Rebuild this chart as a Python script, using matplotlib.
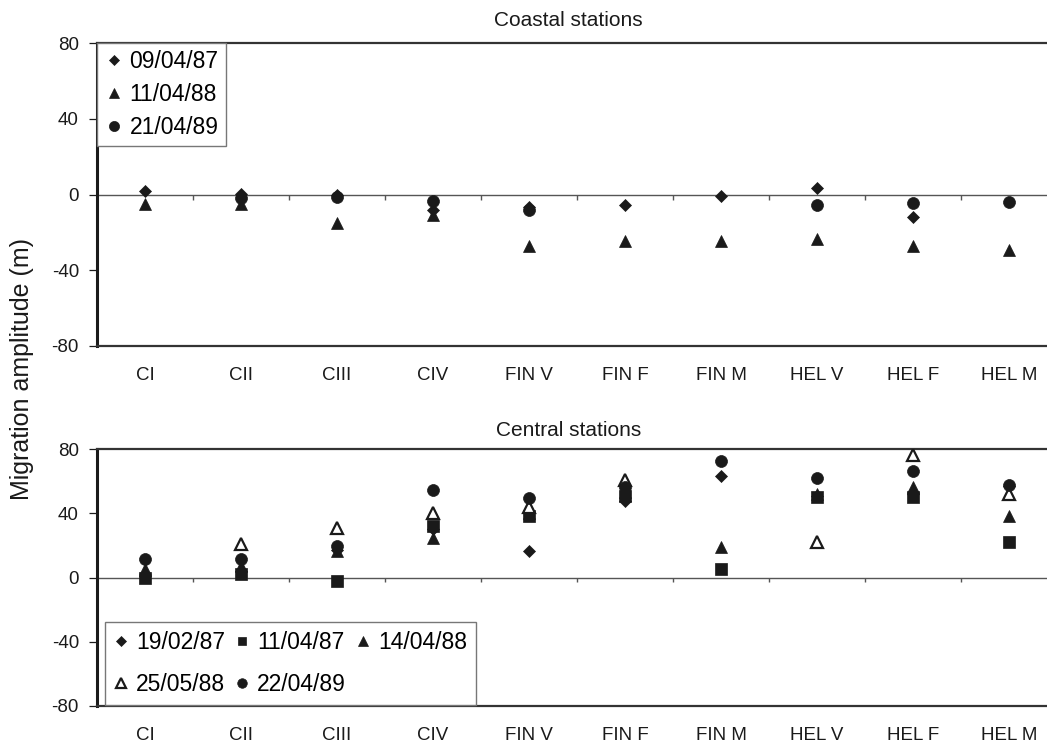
import numpy as np
import matplotlib
matplotlib.use("Agg")
import matplotlib.pyplot as plt

plt.rcParams['font.family'] = ['Liberation Sans', 'DejaVu Sans']

nan = np.nan
categories = ['CI', 'CII', 'CIII', 'CIV', 'FIN V', 'FIN F', 'FIN M', 'HEL V', 'HEL F', 'HEL M']
y_ticks = [-80, -40, 0, 40, 80]

# Coastal stations
coastal_labels = ['09/04/87', '11/04/88', '21/04/89']
coastal_090487 = [2.1, 0.3, 0.0, -8.1, -6.5, -5.5, -1.0, 3.5, -12.0, nan]
coastal_110488 = [-4.9, -5.0, -14.8, -10.6, -27.0, -24.3, -24.3, -23.6, -27.1, -29.2]
coastal_210489 = [nan, -2.0, -1.4, -3.2, -8.1, nan, nan, -5.5, -4.4, -4.1]

# Central stations
central_labels = ['19/02/87', '11/04/87', '14/04/88', '25/05/88', '22/04/89']
central_190287 = [1.0, 4.0, 17.0, 30.0, 16.7, 47.5, 63.4, 51.0, 52.0, 57.0]
central_110487 = [0.0, 2.0, -2.3, 31.8, 38.4, 50.5, 5.4, 50.4, 50.2, 22.1]
central_140488 = [5.0, 7.0, 16.3, 24.6, 40.0, 53.5, 18.8, 52.0, 56.4, 38.0]
central_250588 = [nan, 21.1, 30.8, 40.1, 43.8, 61.0, nan, 21.9, 76.3, 51.7]
central_220489 = [11.8, 11.8, 19.4, 54.6, 49.4, 56.5, 72.7, 62.2, 66.5, 57.3]

INK = '#1a1a1a'
W, H = 1047, 742
fig = plt.figure(figsize=(W / 100, H / 100), dpi=100)

def px_axes(left, top, right, bottom):
    return fig.add_axes([left / W, 1 - bottom / H, (right - left) / W, (bottom - top) / H])

ax1 = px_axes(97, 43, 1057, 346)
ax2 = px_axes(97, 449, 1057, 706)

styles = {
    'D': dict(marker='D', ms=6.4, mfc=INK, mec=INK, mew=0.5),
    's': dict(marker='s', ms=8.0, mfc=INK, mec=INK, mew=0.5),
    '^': dict(marker='^', ms=8.8, mfc=INK, mec=INK, mew=0.5),
    'open^': dict(marker='^', ms=8.4, mfc='white', mec=INK, mew=1.6),
    'o': dict(marker='o', ms=8.6, mfc=INK, mec=INK, mew=0.5),
}

x = np.arange(len(categories))

def style_axes(ax):
    ax.set_xlim(-0.5, len(categories) - 0.5)
    ax.set_ylim(-80, 80)
    ax.set_yticks(y_ticks)
    ax.set_yticklabels([str(v) for v in y_ticks])
    ax.set_xticks(x)
    ax.set_xticklabels(categories)
    ax.tick_params(axis='x', length=0, pad=15, labelsize=13.5, colors=INK)
    ax.tick_params(axis='y', length=6, width=0.9, pad=7, labelsize=13.5, colors=INK)
    ax.spines['left'].set_linewidth(2.2)
    ax.spines['left'].set_color(INK)
    for s in ['top', 'bottom', 'right']:
        ax.spines[s].set_linewidth(1.6)
        ax.spines[s].set_color('#333333')
    # zero line with category separator ticks
    ax.axhline(0, color='#555555', lw=1.0, zorder=1)
    bnd = np.arange(0.5, len(categories) - 0.5, 1.0)
    trans = ax.get_xaxis_transform()
    ax.vlines(bnd, 0.5 - 0.018, 0.5, transform=trans, color='#555555', lw=1.0, zorder=1)

style_axes(ax1)
style_axes(ax2)

# top panel
top_series = [(coastal_090487, 'D'), (coastal_110488, '^'), (coastal_210489, 'o')]
handles1 = []
for (vals, st), lab in zip(top_series, coastal_labels):
    h, = ax1.plot(x, vals, ls='none', label=lab, zorder=3, **styles[st])
    handles1.append(h)

leg1 = ax1.legend(handles=handles1, loc='upper left', borderaxespad=0, fancybox=False,
                  edgecolor='#777777', framealpha=1, fontsize=16.5, handlelength=0.8,
                  handletextpad=0.3, labelspacing=0.43, borderpad=0.32, markerscale=0.85)
leg1.get_frame().set_linewidth(1.0)

# bottom panel
bot_series = [(central_190287, 'D'), (central_110487, 's'), (central_140488, '^'),
              (central_250588, 'open^'), (central_220489, 'o')]
handles2 = []
for (vals, st), lab in zip(bot_series, central_labels):
    h, = ax2.plot(x, vals, ls='none', label=lab, zorder=3, **styles[st])
    handles2.append(h)

order = [0, 3, 1, 4, 2]
leg2 = ax2.legend(handles=[handles2[i] for i in order], ncol=3, loc='lower left',
                  bbox_to_anchor=(8 / 960, 0.004), borderaxespad=0, fancybox=False,
                  edgecolor='#777777', framealpha=1, fontsize=16.5, handlelength=0.6,
                  handletextpad=0.35, labelspacing=0.8, borderpad=0.4, columnspacing=0.45,
                  markerscale=0.8)
leg2.get_frame().set_linewidth(1.0)

fig.text(568 / W, 1 - 20 / H, 'Coastal stations', ha='center', va='center', fontsize=15, color=INK)
fig.text(569 / W, 1 - 430 / H, 'Central stations', ha='center', va='center', fontsize=15, color=INK)
fig.text(22 / W, 1 - 369 / H, 'Migration amplitude (m)', rotation=90, ha='center', va='center',
         fontsize=18, color=INK)

fig.savefig('out.png', dpi=100)
